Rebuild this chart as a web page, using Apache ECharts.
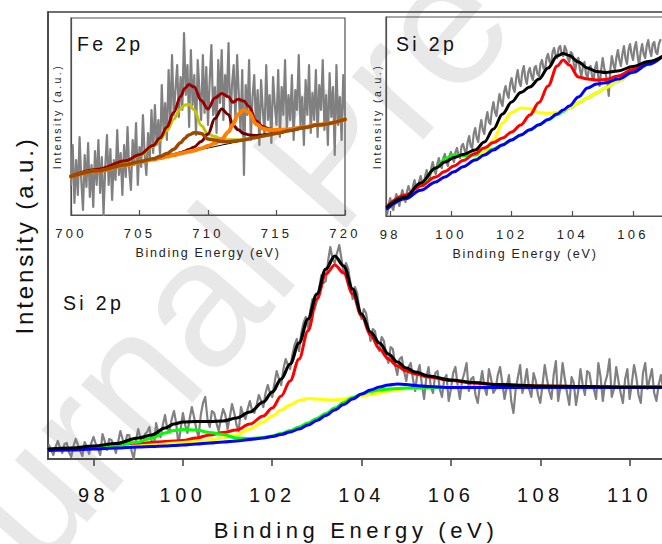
<!DOCTYPE html>
<html>
<head>
<meta charset="utf-8">
<script src="https://cdn.jsdelivr.net/npm/echarts@6/dist/echarts.min.js"></script>
<style>
html,body{margin:0;padding:0;background:#fff;}
#chart{width:662px;height:544px;}
</style>
</head>
<body>
<div id="chart"></div>
<script>
const FONT = "'Liberation Sans', Arial, Helvetica, sans-serif";

// ---------- Main panel: Si 2p ----------
const mainTicks = [98, 100, 102, 104, 106, 108, 110];
const mainGrayStart = 97.0, mainGrayStep = 0.05;
const mainGray = [
  14, 9, 4, 12, 18, 11, 6, 15, 16, 7, 2, 13, 20, 14, 8, 3, 17, 12, 5, 16,
  22, 15, 10, 4, 25, 18, 9, 20, 19, 13, 6, 17, 28, 20, 12, 24, 24, 8, 0, 19,
  30, 21, 14, 25, 27, 32, 18, 12, 36, 26, 22, 34, 44, 30, 28, 40, 48, 36, 14, 30,
  46, 34, 26, 40, 52, 42, 30, 22, 44, 56, 62, 40, 32, 48, 46, 36, 28, 40, 50, 44,
  30, 42, 55, 46, 34, 28, 52, 44, 40, 50, 58, 48, 46, 54, 64, 58, 52, 66, 74, 66,
  62, 76, 88, 80, 74, 90, 100, 94, 90, 104, 114, 120, 108, 126, 136, 142, 130, 148, 160, 150,
  158, 170, 184, 176, 178, 198, 212, 200, 196, 206, 214, 200, 186, 196, 190, 176, 160, 172, 166, 150,
  140, 150, 146, 132, 118, 130, 128, 114, 108, 122, 118, 104, 96, 112, 110, 94, 84, 100, 102, 88,
  78, 92, 96, 80, 68, 86, 94, 74, 60, 82, 92, 72, 66, 86, 88, 70, 62, 80, 84, 58,
  70, 86, 92, 74, 60, 78, 86, 96, 68, 80, 82, 64, 56, 74, 88, 72, 64, 90, 80, 66,
  70, 84, 92, 76, 60, 72, 84, 58, 46, 70, 82, 94, 66, 76, 90, 70, 62, 86, 78, 64,
  56, 74, 94, 80, 68, 60, 84, 98, 58, 72, 96, 80, 66, 54, 82, 76, 54, 68, 90, 74,
  64, 88, 86, 72, 70, 60, 96, 82, 58, 76, 84, 100, 62, 70, 92, 78, 66, 56, 80, 90,
  60, 76, 94, 82, 64, 56, 86, 96, 70, 80, 90, 66, 58, 74, 84, 70
];
const mainFitX = [97.0, 97.5, 98.0, 98.5, 99.0, 99.3, 99.6, 99.8, 100.0, 100.3,
  100.6, 100.9, 101.2, 101.5, 101.8, 102.0, 102.2, 102.4, 102.6, 102.8,
  103.0, 103.2, 103.4, 103.6, 103.8, 104.0, 104.2, 104.4, 104.6, 104.8,
  105.0, 105.2, 105.5, 106.0, 106.5, 107.0, 108.0, 109.0, 110.0, 110.7];
const mainBlack = [10, 11, 13, 15.5, 21, 24, 31, 35, 37, 37.5,
  37.5, 38, 41, 47, 57, 67, 80, 95, 116, 140,
  165, 190, 203, 193, 170, 145, 127, 116, 105, 97,
  91, 87, 83, 79, 76.5, 74.5, 73, 72.5, 72, 72];
const mainRed = [9, 10, 11.5, 13, 15, 16.5, 17.5, 18, 18.5, 21,
  24, 26.5, 29, 35, 43, 51, 63, 78, 100, 128,
  160, 185, 194, 186, 165, 143, 124, 110, 100, 93,
  88, 85, 82, 78.5, 76, 74.5, 73, 72.5, 72, 72];
const mainYellow = [9, 9.5, 10.5, 11.5, 13, 14, 15, 16, 16.5, 17.5,
  19, 21, 24, 30, 37, 43, 49, 54, 58.5, 60.5,
  60, 59.3, 59, 60, 61.5, 63, 64.5, 66, 68, 69.5,
  70.5, 71, 71.5, 72, 72, 72, 72, 72, 72, 72];
const mainGreen = [9, 10, 11.5, 13.5, 17, 21, 26, 28.5, 29.5, 29,
  26.5, 24.5, 21, 20.5, 21.5, 23, 25.5, 28.5, 32, 36,
  40.5, 45.5, 51, 56.5, 61.5, 65, 67.5, 69, 70, 70.5,
  71, 71, 71.5, 71.5, 71.5, 71.5, 71.5, 71.5, 71.5, 71.5];
const mainBlue = [8.5, 9, 10, 11, 12, 12.5, 13, 13.5, 14, 15,
  16, 17, 18, 19.5, 21, 22.5, 24.5, 27, 30, 34,
  38.5, 43.5, 49, 54.5, 60, 65, 69, 72, 74, 75,
  74.5, 73.5, 72.5, 71.5, 71.5, 71.5, 71.5, 71.5, 71.5, 71.5];

// ---------- Inset: Fe 2p ----------
const feTicks = [700, 705, 710, 715, 720];
const feGrayStart = 700.0, feGrayStep = 0.125;
const feGray = [
  30, 70, 12, 55, 20, 78, 35, 5, 60, 28, 72, 18, 50, 8, 64, 30,
  75, 22, 58, 0, 48, 80, 30, 66, 15, 55, 35, 85, 40, 62, 20, 70,
  38, 88, 45, 25, 75, 50, 92, 30, 68, 48, 100, 60, 40, 82, 55, 105,
  62, 110, 70, 95, 58, 130, 85, 112, 75, 145, 92, 160, 100, 125, 150, 98,
  138, 105, 182, 120, 150, 88, 165, 110, 140, 80, 155, 125, 95, 160, 102, 148,
  90, 135, 170, 100, 128, 82, 155, 112, 165, 95, 140, 118, 172, 88, 130, 150,
  95, 160, 120, 85, 145, 40, 130, 100, 155, 75, 118, 140, 90, 125, 70, 135,
  105, 80, 150, 95, 120, 72, 138, 110, 90, 145, 78, 128, 100, 155, 85, 120,
  95, 140, 75, 125, 105, 160, 88, 118, 70, 135, 100, 150, 82, 122, 95, 145,
  78, 130, 105, 155, 85, 120, 70, 142, 98, 128, 60, 150, 90, 118, 75, 140,
  100
];
const feFitX = [700, 702, 704, 705, 706, 706.5, 707, 707.5, 708, 708.3,
  708.6, 709, 709.5, 710, 710.5, 711, 711.5, 711.8, 712.2, 712.6,
  713, 713.5, 714, 714.5, 715, 716, 717, 718, 720];
const feBaseline = [38.3, 44.0, 49.8, 52.7, 55.5, 57.0, 58.4, 59.8, 61.3, 62.1,
  63.0, 64.1, 65.6, 67.0, 68.4, 69.9, 71.3, 72.2, 73.3, 74.5,
  75.6, 77.1, 78.5, 79.9, 81.4, 84.2, 87.1, 90.0, 95.7];
const feYellow = [38.8, 45.5, 53.8, 59.7, 68.5, 75.0, 84.4, 95.8, 106.3, 110.1,
  110.5, 105.1, 89.6, 81.0, 78.4, 75.9, 75.3, 75.2, 75.3, 76.0,
  76.6, 77.6, 79.0, 80.2, 81.6, 84.4, 87.2, 90.0, 95.7];
const feBrown = [38.5, 44.3, 50.3, 53.3, 56.3, 58.5, 61.4, 65.8, 72.3, 76.6,
  80.0, 82.3, 81.6, 76.0, 74.9, 73.4, 73.3, 73.7, 74.3, 75.0,
  76.1, 77.5, 78.9, 80.3, 81.8, 84.5, 87.3, 90.1, 95.7];
const feMaroon = [38.3, 44.0, 50.0, 53.0, 55.8, 57.3, 58.8, 60.4, 62.3, 63.8,
  65.5, 68.1, 73.6, 81.0, 96.4, 105.9, 100.3, 90.2, 85.3, 81.5,
  80.1, 79.6, 80.0, 80.9, 81.9, 84.5, 87.2, 90.0, 95.7];
const feOrange = [38.3, 44.0, 49.8, 52.7, 55.5, 57.0, 58.5, 60.0, 61.5, 62.4,
  63.4, 64.6, 66.6, 69.0, 71.7, 75.9, 83.3, 90.2, 100.8, 105.0,
  102.6, 91.1, 86.5, 84.9, 84.9, 85.7, 87.8, 90.3, 95.7];
const feEnvelope = [39.0, 45.8, 54.3, 60.3, 69.6, 77.0, 88.0, 102.6, 118.6, 126.5,
  130.5, 127.9, 114.6, 106.0, 116.9, 121.4, 118.3, 112.7, 115.8, 114.0,
  108.4, 94.3, 88.5, 85.9, 84.9, 85.7, 87.8, 90.3, 95.7];

// ---------- Inset: Si 2p ----------
const siTicks = [98, 100, 102, 104, 106];
const siGrayStart = 97.9, siGrayStep = 0.05;
const siGray = [
  2, 12,
  18, 9, 6, 15, 22, 16, 10, 20, 26, 19, 14, 24, 30, 25, 20, 30, 36, 28, 24, 34,
  40, 34, 30, 40, 46, 38, 36, 48, 54, 46, 42, 52, 58, 50, 48, 58, 62, 54, 50, 60,
  64, 58, 54, 64, 68, 60, 58, 70, 72, 66, 62, 74, 80, 70, 68, 82, 88, 78, 74, 88,
  96, 86, 82, 96, 104, 94, 92, 106, 114, 104, 100, 112, 122, 114, 110, 124, 130, 122, 118, 132,
  138, 128, 124, 138, 146, 134, 130, 144, 150, 138, 132, 144, 148, 140, 136, 148, 150, 142, 140, 152,
  156, 148, 146, 158, 162, 154, 152, 164, 168, 160, 158, 168, 170, 162, 160, 170, 166, 158, 154, 164,
  162, 152, 146, 156, 158, 146, 140, 150, 154, 142, 138, 148, 150, 140, 136, 148, 154, 140, 130, 146,
  158, 148, 142, 134, 120, 146, 160, 152, 146, 158, 166, 156, 150, 162, 170, 158, 152, 166, 172, 162,
  156, 168, 174, 160, 150, 164, 172, 162, 158, 170, 176, 166, 160, 172, 174, 164, 162, 172, 176
];
const siFitX = [97.9, 98.5, 99.0, 99.5, 99.8, 100.1, 100.4, 100.8, 101.1, 101.4,
  101.7, 102.0, 102.3, 102.6, 102.9, 103.2, 103.5, 103.7, 103.9, 104.2,
  104.5, 104.8, 105.1, 105.5, 106.0, 106.5, 106.95];
const siBlack = [9, 19, 33, 48, 54, 58.5, 61.5, 66, 74, 87,
  102, 114, 123.5, 129, 137, 148, 160, 162.5, 160.5, 154,
  148, 144.5, 143.5, 145, 149.5, 154.5, 159.2];
const siRed = [10, 21, 30, 39, 44.5, 50, 55.5, 62.5, 68, 73.5,
  78, 84, 91, 101, 113.5, 130, 150, 156, 151, 139,
  137, 136, 136.5, 140, 146.5, 153, 159.2];
const siYellow = [7.2, 17.3, 25.7, 34.1, 39.1, 44.2, 49.2, 56.4, 64.0, 76.0,
  93.0, 103.6, 108.1, 107.2, 103.2, 102.7, 103.8, 105.6, 108.3, 113.0,
  118.1, 123.1, 128.2, 134.9, 143.3, 151.7, 159.2];
const siGreen = [7.5, 19.3, 31.7, 48.1, 57.1, 61.2, 60.2, 60.9, 63.5, 67.0,
  71.5, 76.1, 81.1, 86.2, 91.2, 96.2, 101.3, 104.6, 108.0, 113.0,
  118.1, 123.1, 128.2, 134.9, 143.3, 151.7, 159.2];
const siBlue = [7.2, 17.3, 25.7, 34.1, 39.1, 44.2, 49.2, 55.9, 61.0, 66.0,
  71.0, 76.1, 81.1, 86.2, 91.2, 96.5, 102.0, 106.0, 110.0, 119.0,
  128.0, 132.0, 133.2, 136.9, 143.8, 151.7, 159.2];

// ---------- helpers ----------
function pairs(xs, ys) { return ys.map((y, i) => [xs[i], y]); }
function sampled(start, step, ys) { return ys.map((y, i) => [+(start + i * step).toFixed(3), y]); }
function line(data, gi, color, width, smooth) {
  return {
    type: 'line', data: data, xAxisIndex: gi, yAxisIndex: gi,
    symbol: 'none', showSymbol: false,
    smooth: smooth ? 0.35 : false, smoothMonotone: smooth ? 'x' : undefined,
    lineStyle: { color: color, width: width, cap: 'round', join: 'round' },
    itemStyle: { color: color }, silent: true, animation: false, clip: true
  };
}

const GRAY = '#808080';
const chart = echarts.init(document.getElementById('chart'), null, { renderer: 'svg' });

const insetX = (gi, min, max, ticks) => ({
  gridIndex: gi, type: 'value', min: min, max: max,
  axisLine: { show: true, lineStyle: { color: '#505050', width: 1.2 } },
  axisTick: { show: true, inside: true, length: 5, customValues: ticks, lineStyle: { color: '#505050', width: 1.2 } },
  axisLabel: { customValues: ticks, fontSize: 13, fontFamily: FONT, color: '#222', margin: 12 },
  splitLine: { show: false },
  name: 'Binding Energy (eV)', nameLocation: 'middle', nameGap: 31,
  nameTextStyle: { fontSize: 12.5, fontFamily: FONT, color: '#222' }
});
const insetY = (gi, max, gap) => ({
  gridIndex: gi, type: 'value', min: 0, max: max,
  axisLine: { show: true, lineStyle: { color: '#505050', width: 1.2 } },
  axisTick: { show: false }, axisLabel: { show: false }, splitLine: { show: false },
  name: 'Intensity (a.u.)', nameLocation: 'middle', nameGap: gap,
  nameTextStyle: { fontSize: 10.5, fontFamily: FONT, color: '#222' }
});

const option = {
  animation: false,
  backgroundColor: '#fff',
  textStyle: { fontFamily: FONT },
  grid: [
    { left: 48, top: 12, width: 616, height: 447, show: true, borderColor: '#404040', borderWidth: 1.5, backgroundColor: 'transparent', containLabel: false, outerBoundsMode: 'none' },
    { left: 71, top: 18, width: 274, height: 197, show: true, borderColor: '#505050', borderWidth: 1.2, backgroundColor: 'transparent', containLabel: false, outerBoundsMode: 'none' },
    { left: 386, top: 17, width: 278, height: 199, show: true, borderColor: '#505050', borderWidth: 1.2, backgroundColor: 'transparent', containLabel: false, outerBoundsMode: 'none' }
  ],
  xAxis: [
    {
      gridIndex: 0, type: 'value', min: 96.98, max: 110.77,
      axisLine: { show: true, lineStyle: { color: '#404040', width: 1.5 } },
      axisTick: { show: true, inside: false, length: 7, customValues: mainTicks, lineStyle: { color: '#404040', width: 1.5 } },
      axisLabel: { customValues: mainTicks, fontSize: 20, fontFamily: FONT, color: '#111', margin: 26 },
      splitLine: { show: false },
      name: 'Binding Energy (eV)', nameLocation: 'middle', nameGap: 60,
      nameTextStyle: { fontSize: 22, fontFamily: FONT, color: '#111' }
    },
    insetX(1, 700, 720, feTicks),
    insetX(2, 97.86, 107.02, siTicks)
  ],
  yAxis: [
    {
      gridIndex: 0, type: 'value', min: 0, max: 447,
      axisLine: { show: true, lineStyle: { color: '#404040', width: 1.5 } },
      axisTick: { show: false }, axisLabel: { show: false }, splitLine: { show: false },
      name: 'Intensity (a.u.)', nameLocation: 'middle', nameGap: 12,
      nameTextStyle: { fontSize: 24, fontFamily: FONT, color: '#111' }
    },
    insetY(1, 197, 9),
    insetY(2, 199, 4)
  ],
  graphic: [
    { type: 'text', x: -66, y: 738, rotation: 0.85, z: -100, silent: true,
      style: { text: 'Journal Pre-proof', fontSize: 180, fontFamily: FONT, fill: '#e8e8e8', align: 'left', verticalAlign: 'bottom' } },
    { type: 'text', x: 77, y: 44, z: 50, silent: true,
      style: { text: 'Fe 2p', fontSize: 19.5, fontFamily: FONT, fill: '#111', verticalAlign: 'middle' } },
    { type: 'text', x: 396, y: 44, z: 50, silent: true,
      style: { text: 'Si 2p', fontSize: 19.5, fontFamily: FONT, fill: '#111', verticalAlign: 'middle' } },
    { type: 'text', x: 63, y: 303, z: 50, silent: true,
      style: { text: 'Si 2p', fontSize: 19.5, fontFamily: FONT, fill: '#111', verticalAlign: 'middle' } }
  ],
  series: [
    // main
    line(sampled(mainGrayStart, mainGrayStep, mainGray), 0, GRAY, 2.2, false),
    line(pairs(mainFitX, mainRed), 0, '#ff0000', 3, true),
    line(pairs(mainFitX, mainYellow), 0, '#ffff00', 3, true),
    line(pairs(mainFitX, mainGreen), 0, '#00ff00', 3, true),
    line(pairs(mainFitX, mainBlue), 0, '#0000ff', 3, true),
    line(pairs(mainFitX, mainBlack), 0, '#000000', 3.2, true),
    // Fe inset
    line(sampled(feGrayStart, feGrayStep, feGray), 1, GRAY, 2.2, false),
    line(pairs(feFitX, feBaseline), 1, '#000000', 1, false),
    line(pairs(feFitX, feYellow), 1, '#c2c200', 3, true),
    line(pairs(feFitX, feMaroon), 1, '#6e0000', 3, true),
    line(pairs(feFitX, feEnvelope), 1, '#990000', 3, true),
    line(pairs(feFitX, feOrange), 1, '#ff8000', 4, true),
    line(pairs(feFitX, feBrown), 1, '#9c4a00', 3.5, true),
    // Si inset
    line(sampled(siGrayStart, siGrayStep, siGray), 2, GRAY, 2.2, false),
    line(pairs(siFitX, siGreen), 2, '#00ff00', 3, true),
    line(pairs(siFitX, siYellow), 2, '#ffff00', 3, true),
    line(pairs(siFitX, siRed), 2, '#ff0000', 3, true),
    line(pairs(siFitX, siBlue), 2, '#0000ff', 3, true),
    line(pairs(siFitX, siBlack), 2, '#000000', 3, true)
  ]
};
chart.setOption(option);

function applySpacing() {
  document.querySelectorAll('#chart svg text').forEach(function (t) {
    const s = (t.textContent || '').trim();
    const fs = parseFloat(getComputedStyle(t).fontSize) || 12;
    let em = 0;
    if (/^\d+$/.test(s)) em = fs > 16 ? 0.22 : 0.25;
    else if (s.indexOf('Binding') === 0) em = fs > 16 ? 0.21 : 0.14;
    else if (s.indexOf('Intensity') === 0) em = fs > 16 ? 0.12 : 0.23;
    else if (/2p$/.test(s)) em = 0.17;
    const v = (em * fs).toFixed(2) + 'px';
    t.setAttribute('letter-spacing', v);
    t.style.letterSpacing = v;
  });
}
chart.on('finished', applySpacing);
applySpacing();
requestAnimationFrame(applySpacing);
setTimeout(applySpacing, 50);
setTimeout(applySpacing, 200);
</script>
</body>
</html>
